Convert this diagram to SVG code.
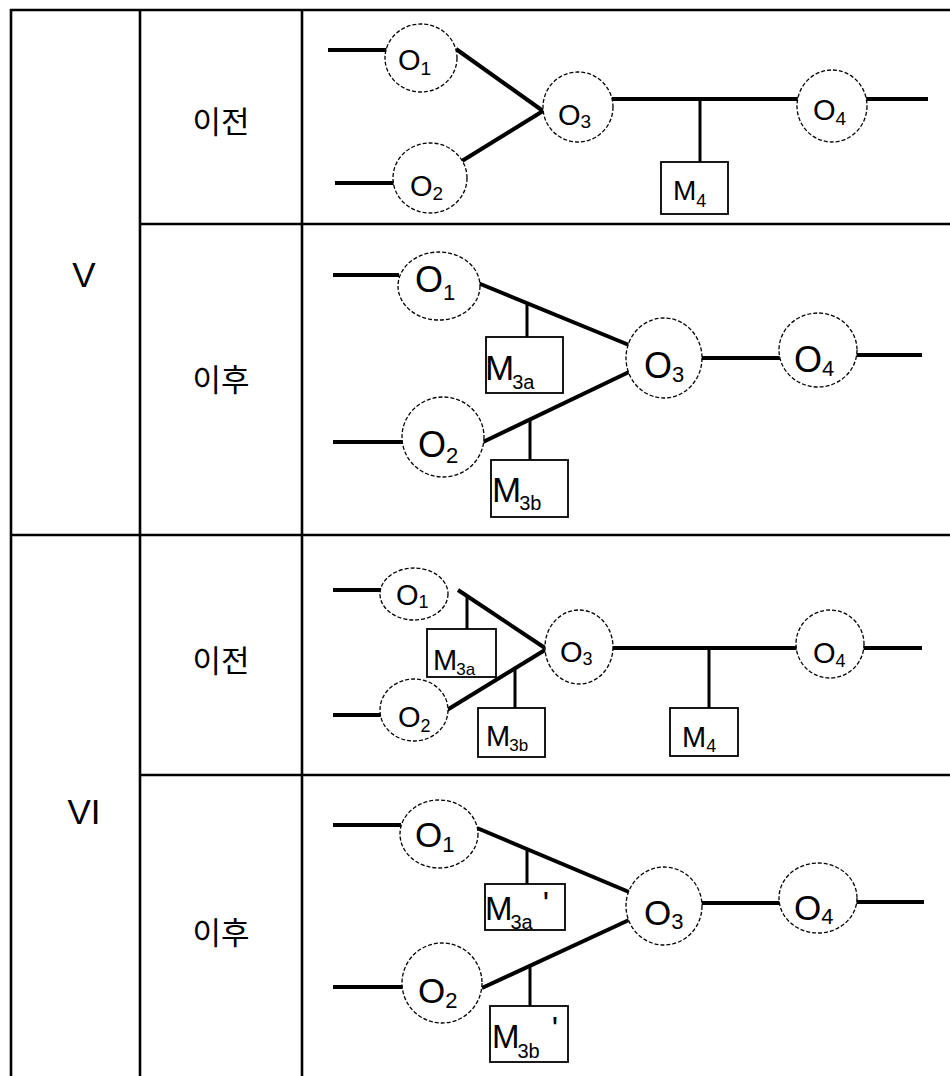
<svg xmlns="http://www.w3.org/2000/svg" width="950" height="1076" viewBox="0 0 950 1076">
<style>
.bg{fill:#fff}
.g{stroke:#000;stroke-width:2.6;fill:none}
.w{stroke:#000;stroke-width:4;fill:none;stroke-linecap:butt}
.s{stroke:#000;stroke-width:3;fill:none}
.c{fill:#fff;stroke:#000;stroke-width:1.3;stroke-dasharray:4 2}
.b{fill:#fff;stroke:#000;stroke-width:1.8}
.t{font-family:"Liberation Sans",Arial,sans-serif;fill:#000}
.k{font-family:"Noto Sans CJK KR","Noto Sans",sans-serif;font-size:31px;fill:#000;text-anchor:middle}
.r{font-family:"Liberation Sans",Arial,sans-serif;font-size:35px;fill:#000;text-anchor:middle}
</style>
<rect class="bg" x="0" y="0" width="950" height="1076"/>
<g id="table">
<line class="g" x1="11" y1="9" x2="11" y2="1076"/>
<line class="g" x1="140" y1="9" x2="140" y2="1076"/>
<line class="g" x1="302" y1="9" x2="302" y2="1076"/>
<line class="g" x1="10" y1="10" x2="950" y2="10"/>
<line class="g" x1="140" y1="224" x2="950" y2="224"/>
<line class="g" x1="10" y1="535" x2="950" y2="535"/>
<line class="g" x1="140" y1="775" x2="950" y2="775"/>
<text class="r" x="84" y="287">V</text>
<text class="r" x="84" y="824">VI</text>
<text class="k" x="221" y="133">이전</text>
<text class="k" x="221" y="391">이후</text>
<text class="k" x="221" y="672">이전</text>
<text class="k" x="221" y="944">이후</text>
</g>
<g id="connectors">
<!-- row 1 -->
<line class="w" x1="328" y1="50" x2="387" y2="50"/>
<line class="w" x1="335" y1="183" x2="394" y2="183"/>
<line class="w" x1="456" y1="49" x2="543" y2="111"/>
<line class="w" x1="462" y1="161" x2="543" y2="111"/>
<line class="w" x1="612" y1="99" x2="798" y2="99"/>
<line class="w" x1="866" y1="99" x2="928" y2="99"/>
<line class="s" x1="700" y1="99" x2="700" y2="162"/>
<!-- row 2 -->
<line class="w" x1="333" y1="275" x2="399" y2="275"/>
<line class="w" x1="333" y1="442" x2="403" y2="442"/>
<line class="w" x1="478" y1="283" x2="629" y2="345"/>
<line class="w" x1="483" y1="442" x2="629" y2="372"/>
<line class="w" x1="701" y1="358" x2="780" y2="358"/>
<line class="w" x1="856" y1="355" x2="922" y2="355"/>
<line class="s" x1="527" y1="303" x2="527" y2="337"/>
<line class="s" x1="530" y1="419" x2="530" y2="460"/>
<!-- row 3 -->
<line class="w" x1="333" y1="590" x2="381" y2="590"/>
<line class="w" x1="333" y1="715" x2="381" y2="715"/>
<line class="w" x1="458" y1="590" x2="545" y2="648"/>
<line class="w" x1="447" y1="710" x2="545" y2="650"/>
<line class="w" x1="612" y1="648" x2="797" y2="648"/>
<line class="w" x1="863" y1="648" x2="922" y2="648"/>
<line class="s" x1="467" y1="596" x2="467" y2="629"/>
<line class="s" x1="515" y1="668" x2="515" y2="708"/>
<line class="s" x1="709" y1="648" x2="709" y2="708"/>
<!-- row 4 -->
<line class="w" x1="333" y1="825" x2="401" y2="825"/>
<line class="w" x1="333" y1="987" x2="403" y2="987"/>
<line class="w" x1="477" y1="828" x2="629" y2="892"/>
<line class="w" x1="482" y1="988" x2="629" y2="920"/>
<line class="w" x1="701" y1="903" x2="780" y2="903"/>
<line class="w" x1="856" y1="902" x2="924" y2="902"/>
<line class="s" x1="527" y1="849" x2="527" y2="884"/>
<line class="s" x1="530" y1="966" x2="530" y2="1006"/>
</g>
<!-- row 1 nodes -->
<g id="r1-o1"><ellipse class="c" cx="421" cy="58" rx="36" ry="34"/><text class="t" x="398" y="70" font-size="29">O<tspan font-size="19" y="75">1</tspan></text></g>
<g id="r1-o2"><ellipse class="c" cx="430" cy="178" rx="37" ry="35"/><text class="t" x="410" y="196" font-size="29">O<tspan font-size="19" y="200">2</tspan></text></g>
<g id="r1-o3"><ellipse class="c" cx="578" cy="107" rx="35" ry="35"/><text class="t" x="558" y="125" font-size="29">O<tspan font-size="19" y="128">3</tspan></text></g>
<g id="r1-o4"><ellipse class="c" cx="832" cy="106" rx="35" ry="36"/><text class="t" x="813" y="120" font-size="29">O<tspan font-size="19" y="125">4</tspan></text></g>
<g id="r1-m4"><rect class="b" x="661" y="162" width="67" height="52"/><text class="t" x="673" y="200" font-size="28">M<tspan font-size="18" y="207">4</tspan></text></g>
<!-- row 2 nodes -->
<g id="r2-o1"><ellipse class="c" cx="439" cy="286" rx="41" ry="34"/><text class="t" x="415" y="292" font-size="36">O<tspan font-size="22" y="300">1</tspan></text></g>
<g id="r2-o2"><ellipse class="c" cx="443" cy="437" rx="41" ry="40"/><text class="t" x="418" y="457" font-size="36">O<tspan font-size="22" y="463">2</tspan></text></g>
<g id="r2-o3"><ellipse class="c" cx="664" cy="358" rx="38" ry="40"/><text class="t" x="644" y="378" font-size="36">O<tspan font-size="22" y="382">3</tspan></text></g>
<g id="r2-o4"><ellipse class="c" cx="818" cy="350" rx="39" ry="37"/><text class="t" x="794" y="372" font-size="36">O<tspan font-size="22" y="376">4</tspan></text></g>
<g id="r2-m3a"><rect class="b" x="486" y="337" width="77" height="56"/><text class="t" x="485" y="380" font-size="35">M<tspan font-size="20" y="389" dx="-2">3a</tspan></text></g>
<g id="r2-m3b"><rect class="b" x="491" y="460" width="77" height="57"/><text class="t" x="492" y="502" font-size="35">M<tspan font-size="20" y="510" dx="-2">3b</tspan></text></g>
<!-- row 3 nodes -->
<g id="r3-o1"><ellipse class="c" cx="414" cy="594" rx="34" ry="26"/><text class="t" x="396" y="605" font-size="29">O<tspan font-size="18" y="608">1</tspan></text></g>
<g id="r3-o2"><ellipse class="c" cx="414" cy="710" rx="34" ry="31"/><text class="t" x="398" y="727" font-size="29">O<tspan font-size="18" y="732">2</tspan></text></g>
<g id="r3-o3"><ellipse class="c" cx="579" cy="647" rx="34" ry="37"/><text class="t" x="560" y="662" font-size="29">O<tspan font-size="18" y="665">3</tspan></text></g>
<g id="r3-o4"><ellipse class="c" cx="830" cy="644" rx="34" ry="34"/><text class="t" x="813" y="663" font-size="29">O<tspan font-size="18" y="667">4</tspan></text></g>
<g id="r3-m3a"><rect class="b" x="427" y="629" width="69" height="48"/><text class="t" x="433" y="670" font-size="29">M<tspan font-size="17" y="675" dx="-1">3a</tspan></text></g>
<g id="r3-m3b"><rect class="b" x="478" y="708" width="67" height="49"/><text class="t" x="486" y="746" font-size="29">M<tspan font-size="17" y="751" dx="-1">3b</tspan></text></g>
<g id="r3-m4"><rect class="b" x="670" y="708" width="68" height="48"/><text class="t" x="682" y="747" font-size="29">M<tspan font-size="18" y="752">4</tspan></text></g>
<!-- row 4 nodes -->
<g id="r4-o1"><ellipse class="c" cx="439" cy="834" rx="39" ry="34"/><text class="t" x="415" y="847" font-size="35">O<tspan font-size="22" y="852">1</tspan></text></g>
<g id="r4-o2"><ellipse class="c" cx="442" cy="983" rx="40" ry="40"/><text class="t" x="418" y="1003" font-size="35">O<tspan font-size="22" y="1008">2</tspan></text></g>
<g id="r4-o3"><ellipse class="c" cx="664" cy="906" rx="38" ry="39"/><text class="t" x="644" y="925" font-size="35">O<tspan font-size="22" y="929">3</tspan></text></g>
<g id="r4-o4"><ellipse class="c" cx="818" cy="898" rx="39" ry="35"/><text class="t" x="794" y="920" font-size="35">O<tspan font-size="22" y="924">4</tspan></text></g>
<g id="r4-m3a"><rect class="b" x="485" y="884" width="80" height="46"/><text class="t" x="485" y="920" font-size="33">M<tspan font-size="20" y="929" dx="-2">3a</tspan><tspan y="915" dx="10">'</tspan></text></g>
<g id="r4-m3b"><rect class="b" x="490" y="1006" width="78" height="56"/><text class="t" x="492" y="1048" font-size="33">M<tspan font-size="20" y="1058" dx="-2">3b</tspan><tspan y="1040" dx="12">'</tspan></text></g>
</svg>
